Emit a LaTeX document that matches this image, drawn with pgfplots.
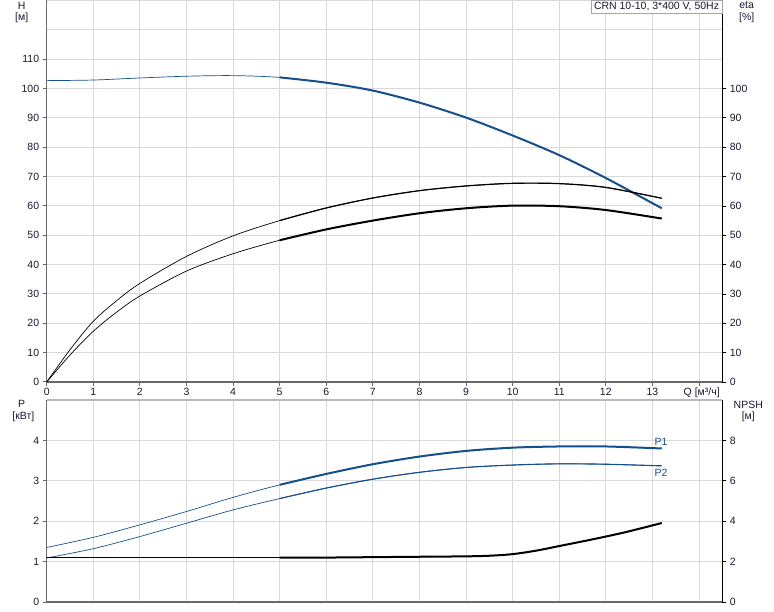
\documentclass[border=0pt]{standalone}
\usepackage{fontspec}
\setmainfont{Liberation Sans}
\usepackage{pgfplots}
\usepackage{pgfplotstable}
\pgfplotsset{compat=1.18}

\definecolor{curveblue}{RGB}{22,79,140}
\definecolor{txt}{RGB}{25,25,50}
\definecolor{framegray}{RGB}{105,105,105}

% Q [m3/h] against head, efficiencies, power, NPSH
\pgfplotstableread{
Q     H
0     102.7
1     102.9
2     103.6
3     104.2
4     104.4
5     103.8
6     102.0
7     99.3
8     95.2
9     90.1
10    84.0
11    77.3
12    69.5
13.2  59.2
}\head
\pgfplotstableread{
Q     eta
0     0
0.5   11.0
1     20.7
1.5   27.7
2     33.6
3     42.8
4     49.8
5     55.0
6     59.3
7     62.7
8     65.2
9     66.8
10    67.7
11    67.6
12    66.3
13.2  62.6
}\etaone
\pgfplotstableread{
Q     eta
0     0
0.5   9.2
1     17.3
1.5   23.8
2     29.3
3     37.8
4     43.7
5     48.3
6     52.0
7     55.0
8     57.5
9     59.2
10    60.1
11    59.9
12    58.6
13.2  55.7
}\etatwo
\pgfplotstableread{
Q     P
0     1.35
1     1.60
2     1.91
3     2.24
4     2.59
5     2.90
6     3.17
7     3.41
8     3.60
9     3.74
10    3.82
11    3.85
12    3.85
13.2  3.80
}\powone
\pgfplotstableread{
Q     P
0     1.09
1     1.32
2     1.62
3     1.95
4     2.28
5     2.56
6     2.82
7     3.04
8     3.21
9     3.33
10    3.39
11    3.42
12    3.41
13.2  3.37
}\powtwo
\pgfplotstableread{
Q     N
0     2.20
2     2.20
4     2.20
5     2.20
6     2.20
7     2.22
8     2.24
9     2.26
9.5   2.29
10    2.37
10.5  2.54
11    2.77
11.5  3.00
12    3.24
12.5  3.50
13.2  3.91
}\npsh

\pgfplotsset{
  chart/.style={
    scale only axis, width=675.6pt, anchor=south west,
    xmin=0, xmax=14.5,
    tick align=outside, major tick length=4pt,
    ticklabel style={font=\fontsize{10.5}{12}\selectfont, text=txt},
    /pgf/number format/assume math mode=true,
  },
  thin/.style={smooth, line width=0.7pt},
  thick/.style={smooth, line width=2pt, restrict x to domain=5:14},
}

\begin{document}
\begin{tikzpicture}
\useasboundingbox (0,0) rectangle (774pt,611pt);

% ---- upper chart: H and eta
\begin{axis}[chart, at={(46.7pt,229pt)}, height=381.5pt,
  ymin=0, ymax=130,
  axis x line*=bottom, axis y line*=left,
  axis line style={framegray, line width=1.5pt},
  tick style={framegray, line width=1pt},
  xtick={0,...,14},
  xticklabels={0,1,2,3,4,5,6,7,8,9,10,11,12,13,{}},
  xticklabel style={yshift=1.5pt},
  ytick={0,10,...,110},
  extra y ticks={120,130}, extra y tick labels={},
  extra y tick style={major tick length=0pt},
  grid=major, grid style={gray!30, line width=1pt},
]
  \addplot[thin, curveblue] table[x=Q, y=H] {\head};
  \addplot[thick, curveblue] table[x=Q, y=H] {\head};
  \addplot[thin, black] table[x=Q, y=eta] {\etaone};
  \addplot[thick, black, line width=1.2pt] table[x=Q, y=eta] {\etaone};
  \addplot[thin, black] table[x=Q, y=eta] {\etatwo};
  \addplot[thick, black] table[x=Q, y=eta] {\etatwo};
\end{axis}
\begin{axis}[chart, at={(46.7pt,229pt)}, height=381.5pt,
  ymin=0, ymax=130, hide x axis, axis y line*=right,
  axis line style={black, line width=1pt},
  tick style={black, line width=0.8pt},
  ytick={0,10,...,100},
]
  \addplot[draw=none] coordinates {(0,0)};
\end{axis}

% ---- lower chart: P and NPSH
\begin{axis}[chart, at={(46.7pt,9pt)}, height=202pt,
  ymin=0, ymax=5,
  axis x line*=bottom, axis y line*=left,
  axis line style={framegray, line width=1.5pt},
  tick style={framegray, line width=1pt},
  xtick={0,...,14}, xticklabels={},
  xtick style={draw=none},
  ytick={0,...,4},
  extra y ticks={5}, extra y tick labels={},
  extra y tick style={major tick length=0pt, grid style={gray!55, line width=1.3pt}},
  grid=major, grid style={gray!30, line width=1pt},
]
  \addplot[thin, curveblue] table[x=Q, y=P] {\powone};
  \addplot[thick, curveblue] table[x=Q, y=P] {\powone};
  \addplot[thin, curveblue] table[x=Q, y=P] {\powtwo};
  \addplot[thick, curveblue, line width=1.1pt] table[x=Q, y=P] {\powtwo};
\end{axis}
\begin{axis}[chart, at={(46.7pt,9pt)}, height=202pt,
  ymin=0, ymax=10, hide x axis, axis y line*=right,
  axis line style={black, line width=1pt},
  tick style={black, line width=0.8pt},
  ytick={0,2,4,6,8},
]
  \addplot[thin, black] table[x=Q, y=N] {\npsh};
  \addplot[thick, black] table[x=Q, y=N] {\npsh};
\end{axis}

% ---- texts
\begin{scope}[font=\fontsize{10.5}{12}\selectfont, text=txt]
  \node at (21.7pt,605.5pt) {H};
  \node at (21.7pt,593.5pt) {[м]};
  \node at (746.7pt,605.5pt) {eta};
  \node at (746.7pt,593.5pt) {[\%]};
  \node at (21.7pt,207.2pt) {P};
  \node at (23.3pt,194pt) {[кВт]};
  \node at (748.3pt,206.2pt) {NPSH};
  \node at (748.3pt,194pt) {[м]};
  \node at (701.7pt,218.7pt) {Q [м³/ч]};
  \node[text=curveblue] at (661pt,168.7pt) {P1};
  \node[text=curveblue] at (661pt,137.7pt) {P2};
  \node[draw=gray!70, fill=white, anchor=north east, inner xsep=3pt, inner ysep=2pt]
    at (722.3pt,611pt) {CRN 10-10, 3*400 V, 50Hz};
\end{scope}
\end{tikzpicture}
\end{document}
